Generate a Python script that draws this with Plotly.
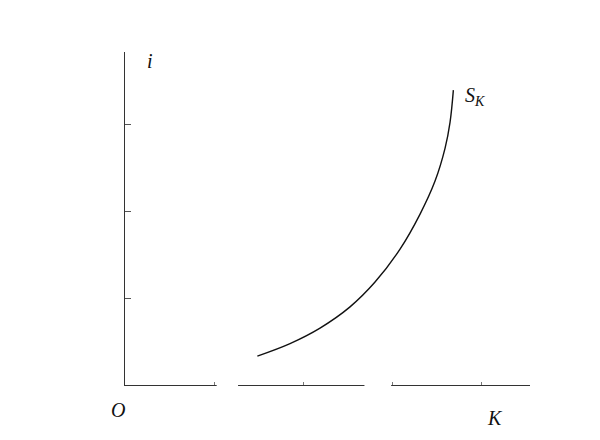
import plotly.graph_objects as go

# Curve S_K (units: x tick spacing = 1, y tick spacing = 1)
k_vals = [1.487, 1.854, 2.191, 2.528, 2.809, 3.090, 3.315, 3.483, 3.596, 3.652, 3.689]
i_vals = [0.333, 0.477, 0.655, 0.899, 1.184, 1.563, 1.966, 2.345, 2.724, 3.023, 3.391]

x_ticks = [1, 2, 3, 4]
y_ticks = [1, 2, 3]

fig = go.Figure()
fig.add_trace(go.Scatter(
    x=k_vals, y=i_vals, mode="lines",
    line=dict(color="#111111", width=1.4, shape="spline", smoothing=1.0),
    showlegend=False, hoverinfo="skip"))

serif = "Liberation Serif, Times New Roman, serif"
font = dict(family=serif, size=20, color="#111111")

# small breaks in the printed x axis line (as in the scanned figure)
for x0, x1 in [(1.03, 1.27), (2.69, 2.99)]:
    fig.add_shape(type="line", xref="x", yref="paper", x0=x0, x1=x1, y0=0, y1=0,
                  line=dict(color="white", width=4), layer="above")

fig.update_layout(
    width=600, height=440,
    margin=dict(l=117, r=78, t=44, b=63),
    paper_bgcolor="white", plot_bgcolor="white",
    showlegend=False,
    xaxis=dict(range=[0, 4.55], showline=True, linecolor="#333333", linewidth=1.2,
               showgrid=False, zeroline=False, ticks="inside", ticklen=3,
               tickcolor="#777777", tickwidth=1, tickvals=x_ticks, showticklabels=False,
               fixedrange=True),
    yaxis=dict(range=[0, 3.83], showline=True, linecolor="#333333", linewidth=1.4,
               showgrid=False, zeroline=False, ticks="inside", ticklen=6,
               tickcolor="#555555", tickwidth=1, tickvals=y_ticks, showticklabels=False,
               fixedrange=True),
    annotations=[
        dict(x=-0.017, y=-0.075, xref="paper", yref="paper", text="<i>O</i>",
             xanchor="center", yanchor="middle", showarrow=False, font=font),
        dict(x=0.914, y=-0.099, xref="paper", yref="paper", text="<i>K</i>",
             xanchor="center", yanchor="middle", showarrow=False, font=font),
        dict(x=0.28, y=3.73, xref="x", yref="y", text="<i>i</i>",
             xanchor="center", yanchor="middle", showarrow=False, font=font),
        dict(x=3.93, y=3.32, xref="x", yref="y", text="<i>S<sub>K</sub></i>",
             xanchor="center", yanchor="middle", showarrow=False, font=font),
    ],
)

fig.write_html("out.html")
